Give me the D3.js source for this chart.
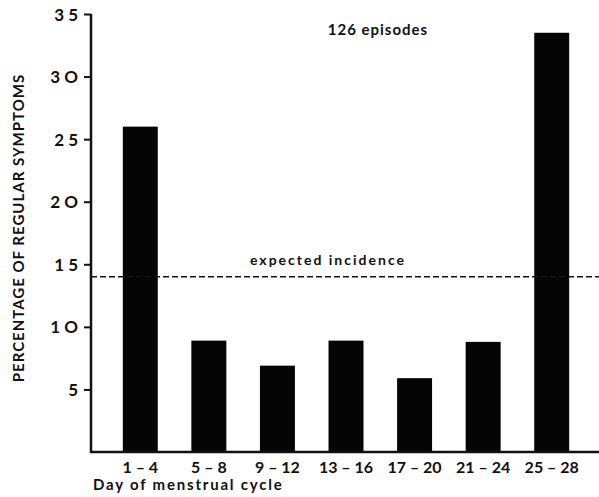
<!DOCTYPE html>
<html>
<head>
<meta charset="utf-8">
<script src="https://cdn.jsdelivr.net/npm/d3@7"></script>
<style>
  body { margin: 0; background: #fff; }
  text { font-family: "Lato", "DejaVu Sans", sans-serif; fill: #111; }
</style>
</head>
<body>
<div id="chart"></div>
<script>

// data
var categories = ["1-4", "5-8", "9-12", "13-16", "17-20", "21-24", "25-28"];
var percentages = [26, 8.9, 6.9, 8.9, 5.9, 8.8, 33.5];
var yTicks = [5, 10, 15, 20, 25, 30, 35];
var expected = [14];

var width = 599, height = 497;

var svg = d3.select("#chart")
  .append("svg")
    .attr("width", width)
    .attr("height", height);

// scales
var x = d3.scaleBand()
  .domain(categories)
  .range([106, 586])
  .paddingInner(0.49)
  .paddingOuter(0.245);

var y = d3.scaleLinear()
  .domain([0, 35])
  .range([452, 14]);

// bars
svg.append("g")
  .selectAll("rect")
  .data(percentages)
  .enter().append("rect")
    .attr("x", function(d, i) { return x(categories[i]); })
    .attr("y", function(d) { return y(d); })
    .attr("width", x.bandwidth())
    .attr("height", function(d) { return y(0) - y(d); })
    .attr("fill", "#050505");

// y axis
var yAxis = svg.append("g")
  .attr("transform", "translate(91,0)")
  .call(d3.axisLeft(y)
    .tickValues(yTicks)
    .tickSize(7)
    .tickPadding(6)
    .tickFormat(function(d) { return d.toString().split("").join(" ").replace(/0/g, "O"); }));
yAxis.select(".domain").remove();
yAxis.selectAll(".tick line").attr("stroke", "#111").attr("stroke-width", 2);
yAxis.selectAll(".tick text")
  .style("font-size", "17px")
  .style("font-weight", "bold")
  .attr("dy", "0.36em");

// axis lines drawn thick
svg.append("line")
  .attr("x1", 91).attr("x2", 91)
  .attr("y1", y(35)).attr("y2", y(0) + 1)
  .attr("stroke", "#111").attr("stroke-width", 2.5);
svg.append("line")
  .attr("x1", 90).attr("x2", 599)
  .attr("y1", y(0)).attr("y2", y(0))
  .attr("stroke", "#111").attr("stroke-width", 2.5);

// x labels
var xAxis = svg.append("g")
  .attr("transform", "translate(0," + y(0) + ")")
  .call(d3.axisBottom(x)
    .tickSize(0)
    .tickPadding(10)
    .tickFormat(function(d) { return d.replace("-", " \u2013 "); }));
xAxis.select(".domain").remove();
xAxis.selectAll(".tick text")
  .style("font-size", "16px")
  .style("font-weight", "bold");

// expected incidence line
svg.selectAll(".expected")
  .data(expected)
  .enter().append("line")
    .attr("class", "expected")
    .attr("x1", 91).attr("x2", 599)
    .attr("y1", function(d) { return y(d); })
    .attr("y2", function(d) { return y(d); })
    .attr("stroke", "#111")
    .attr("stroke-width", 1.6)
    .attr("stroke-dasharray", "6,3");

svg.append("text")
  .attr("x", 328).attr("y", y(expected[0]) - 12)
  .attr("text-anchor", "middle")
  .style("font-size", "14px")
  .style("font-weight", "bold")
  .style("letter-spacing", "2px")
  .text("expected incidence");

svg.append("text")
  .attr("x", 378).attr("y", 35)
  .attr("text-anchor", "middle")
  .style("font-size", "15px")
  .style("font-weight", "bold")
  .style("letter-spacing", "1px")
  .text("126 episodes");

// axis titles
svg.append("text")
  .attr("transform", "translate(24,228) rotate(-90)")
  .attr("text-anchor", "middle")
  .style("font-size", "15px")
  .style("font-weight", "bold")
  .style("letter-spacing", "1px")
  .text("PERCENTAGE OF REGULAR SYMPTOMS");

svg.append("text")
  .attr("x", 93).attr("y", 490)
  .style("font-size", "15px")
  .style("font-weight", "bold")
  .style("letter-spacing", "1.8px")
  .text("Day of menstrual cycle");

</script>
</body>
</html>
